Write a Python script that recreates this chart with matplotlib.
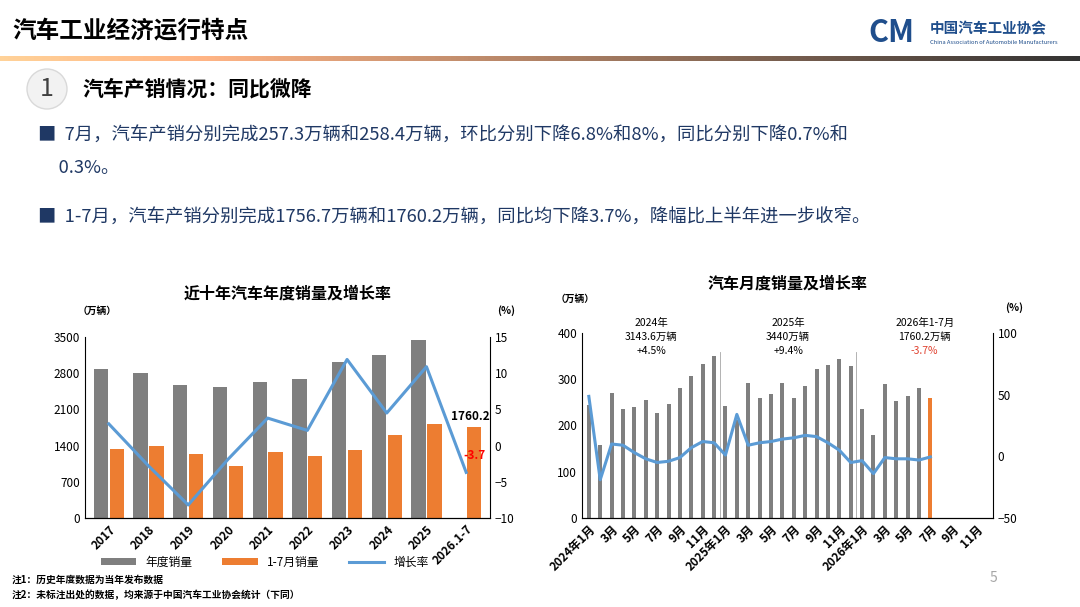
import numpy as np
import matplotlib.pyplot as plt
from matplotlib.patches import Ellipse

# ---------------- CONFIG ----------------
plt.rcParams['font.family'] = ['Noto Sans CJK SC', 'DejaVu Sans']
W, H = 1080, 607
GRAY = '#7F7F7F'
ORANGE = '#ED7D31'
BLUE = '#5B9BD5'
NAVY = '#1F3864'

# ---------------- DATA ----------------
years = ['2017', '2018', '2019', '2020', '2021', '2022', '2023', '2024', '2025', '2026.1-7']
annual_sales = [2888, 2808, 2577, 2531, 2628, 2686, 3009, 3144, 3440, np.nan]
jan_jul_sales = [1331, 1398, 1232, 1010, 1276, 1205, 1323, 1611, 1827, 1760.2]
annual_growth = [3.0, -2.8, -8.2, -1.9, 3.8, 2.1, 11.9, 4.5, 10.9, -3.7]

month_sales = [245, 158, 270, 236, 241, 256, 226, 246, 281, 306, 332, 350,
               243, 212, 292, 259, 268, 291, 259, 286, 323, 331, 343, 328,
               235, 180, 290, 253, 263, 281, 259]
month_growth = [48.6, -19, 10, 9, 3, -2, -5, -4, -1, 7, 12, 11,
                1, 34, 9, 11, 12, 14, 15, 17, 16, 11, 5, -5,
                -3.5, -14, -1, -2, -2, -3, -0.5]
month_labels = ['2024年1月', '3月', '5月', '7月', '9月', '11月',
                '2025年1月', '3月', '5月', '7月', '9月', '11月',
                '2026年1月', '3月', '5月', '7月', '9月', '11月']


def box(x0, y0, x1, y1):
    """pixel box -> figure fraction rect"""
    return [x0 / W, 1 - y1 / H, (x1 - x0) / W, (y1 - y0) / H]


fig = plt.figure(figsize=(W / 100, H / 100), dpi=100)
fig.patch.set_facecolor('white')

# ---------------- HEADER ----------------
fig.text(12 / W, 1 - 30 / H, '汽车工业经济运行特点', fontsize=17, fontweight='bold',
         color='black', va='center')
band = fig.add_axes(box(0, 56, W, 61))
band.imshow(np.linspace(0, 1, 256).reshape(1, -1), cmap='copper_r', aspect='auto', alpha=0.8)
band.axis('off')
fig.text(868 / W, 1 - 33 / H, 'CM', fontsize=22, fontweight='bold', style='italic',
         color='#1F4E8C', va='center')
fig.text(930 / W, 1 - 28 / H, '中国汽车工业协会', fontsize=10.5, fontweight='bold',
         color='#1F4E8C', va='center')
fig.text(930 / W, 1 - 43 / H, 'China Association of Automobile Manufacturers',
         fontsize=4.2, color='#1F4E8C', va='center')

fig.patches.append(Ellipse((47 / W, 1 - 89 / H), 40 / W, 40 / H, transform=fig.transFigure,
                           facecolor='#F2F2F2', edgecolor='#D9D9D9'))
fig.text(47 / W, 1 - 89 / H, '1', fontsize=18, color='#404040', ha='center', va='center')
fig.text(82 / W, 1 - 89 / H, '汽车产销情况：同比微降', fontsize=15, fontweight='bold',
         color='black', va='center')

bullets = [(135, '■  7月，汽车产销分别完成257.3万辆和258.4万辆，环比分别下降6.8%和8%，同比分别下降0.7%和'),
           (168, '     0.3%。'),
           (218, '■  1-7月，汽车产销分别完成1756.7万辆和1760.2万辆，同比均下降3.7%，降幅比上半年进一步收窄。')]
for y, t in bullets:
    fig.text(38 / W, 1 - y / H, t, fontsize=13.2, color=NAVY, va='center')

# ---------------- LEFT CHART ----------------
x = np.arange(len(years))
ax1 = fig.add_axes(box(85, 337, 490, 518))
ax1.bar(x - 0.2, annual_sales, width=0.36, color=GRAY, label='年度销量')
ax1.bar(x + 0.2, jan_jul_sales, width=0.36, color=ORANGE, label='1-7月销量')
ax1.set_ylim(0, 3500)
ax1.set_yticks(range(0, 3501, 700))
ax1.set_xlim(-0.6, len(years) - 0.4)
ax1.set_xticks(x)
ax1.set_xticklabels(years, rotation=45, ha='right', rotation_mode='anchor',
                    fontsize=8.5, fontweight='bold')
ax1.tick_params(axis='y', labelsize=8.5, length=0)
ax1.tick_params(axis='x', length=0)
for s in ['top', 'right']:
    ax1.spines[s].set_visible(False)
ax1.text(9.1, 1900, '1760.2', fontsize=8.5, fontweight='bold', ha='center')
ax1b = ax1.twinx()
ax1b.plot(x, annual_growth, color=BLUE, lw=2.2, label='增长率')
ax1b.set_ylim(-10, 15)
ax1b.set_yticks(range(-10, 16, 5))
ax1b.tick_params(axis='y', labelsize=8.5, length=0)
ax1b.spines['top'].set_visible(False)
ax1b.spines['left'].set_visible(False)
ax1b.text(9.2, -1.9, '-3.7', fontsize=8.5, fontweight='bold', color='red', ha='center')
ax1.set_title('近十年汽车年度销量及增长率', fontsize=11.5, fontweight='bold', pad=28)
fig.text(78 / W, 1 - 314 / H, '（万辆）', fontsize=7, fontweight='bold')
fig.text(497 / W, 1 - 314 / H, '(%)', fontsize=7.5, fontweight='bold')
h1, l1 = ax1.get_legend_handles_labels()
h2, l2 = ax1b.get_legend_handles_labels()
fig.legend(h1 + h2, l1 + l2, loc='center', bbox_to_anchor=(265 / W, 1 - 562 / H),
           ncol=3, frameon=False, fontsize=8.5, handlelength=3, columnspacing=2.5,
           handleheight=0.5)

fig.text(12 / W, 1 - 583 / H, '注1：历史年度数据为当年发布数据', fontsize=7, fontweight='bold')
fig.text(12 / W, 1 - 598 / H, '注2：未标注出处的数据，均来源于中国汽车工业协会统计（下同）',
         fontsize=7, fontweight='bold')

# ---------------- RIGHT CHART ----------------
m = np.arange(len(month_sales))
colors = [GRAY] * (len(month_sales) - 1) + [ORANGE]
ax2 = fig.add_axes(box(582, 333, 993, 518))
ax2.bar(m, month_sales, width=0.35, color=colors)
ax2.set_ylim(0, 400)
ax2.set_yticks(range(0, 401, 100))
ax2.set_xlim(-0.6, 35.5)
ax2.set_xticks(range(0, 36, 2))
ax2.set_xticklabels(month_labels, rotation=45, ha='right', rotation_mode='anchor',
                    fontsize=8.5, fontweight='bold')
ax2.tick_params(axis='y', labelsize=8.5, length=0)
ax2.tick_params(axis='x', length=0)
for s in ['top', 'right']:
    ax2.spines[s].set_visible(False)
for sep in [11.5, 23.5]:
    ax2.axvline(sep, ymax=0.9, color='#A6A6A6', lw=0.6)
ax2b = ax2.twinx()
ax2b.plot(m, month_growth, color=BLUE, lw=2.2)
ax2b.set_ylim(-50, 100)
ax2b.set_yticks(range(-50, 101, 50))
ax2b.tick_params(axis='y', labelsize=8.5, length=0)
ax2b.spines['top'].set_visible(False)
ax2b.spines['left'].set_visible(False)
for xc, lines, col in [(5.5, ['2024年', '3143.6万辆', '+4.5%'], 'black'),
                       (17.5, ['2025年', '3440万辆', '+9.4%'], 'black'),
                       (29.5, ['2026年1-7月', '1760.2万辆', '-3.7%'], '#E0412F')]:
    for k, t in enumerate(lines):
        ax2.text(xc, 421 - k * 30, t, fontsize=7.5, ha='center', va='center',
                 color=col if k == 2 else 'black', clip_on=False)
ax2.set_title('汽车月度销量及增长率', fontsize=11.5, fontweight='bold', pad=32)
fig.text(556 / W, 1 - 302 / H, '（万辆）', fontsize=7, fontweight='bold')
fig.text(1005 / W, 1 - 311 / H, '(%)', fontsize=7.5, fontweight='bold')

fig.text(990 / W, 1 - 578 / H, '5', fontsize=10, color='#A6A6A6', va='center')

plt.savefig('out.png', dpi=100)
